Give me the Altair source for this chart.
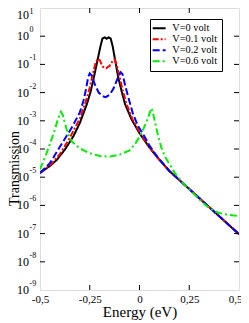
import altair as alt
import pandas as pd

SERIF = "Liberation Serif"

series_names = ["V=0 volt", "V=0.1 volt", "V=0.2 volt", "V=0.6 volt"]
series_colors = ["#000000", "#ff0000", "#0000ff", "#00ee00"]
series_dashes = [[1, 0], [6, 2, 2, 2], [7, 3], [7, 3, 2, 3]]

# V = 0 volt (log10 of transmission)
E_v0 = [-0.50, -0.45, -0.416, -0.375, -0.333, -0.30, -0.265, -0.245, -0.232, -0.22,
        -0.207, -0.195, -0.186, -0.175, -0.165, -0.155, -0.145, -0.135, -0.125, -0.107,
        -0.09, -0.073, -0.04, 0.00, 0.05, 0.09, 0.15, 0.20, 0.25, 0.30, 0.35, 0.40, 0.45, 0.50]
logT_v0 = [-4.85, -4.60, -4.39, -4.02, -3.56, -3.08, -2.42, -1.95, -1.55, -1.15,
           -0.72, -0.32, -0.08, -0.04, -0.09, -0.04, -0.08, -0.35, -0.75, -1.45,
           -1.95, -2.40, -2.95, -3.44, -3.95, -4.30, -4.78, -5.10, -5.42, -5.74, -6.06, -6.38, -6.70, -7.02]

# V = 0.1 volt
E_v1 = [-0.50, -0.45, -0.40, -0.35, -0.30, -0.27, -0.25, -0.235, -0.222, -0.21,
        -0.20, -0.185, -0.168, -0.15, -0.135, -0.125, -0.115, -0.10, -0.085, -0.065,
        -0.035, 0.00, 0.05, 0.09, 0.15, 0.20, 0.25, 0.30, 0.35, 0.40, 0.45, 0.50]
logT_v1 = [-4.85, -4.58, -4.18, -3.60, -2.92, -2.32, -1.82, -1.35, -0.98, -0.80,
           -0.85, -1.08, -1.14, -1.05, -0.88, -0.82, -1.00, -1.45, -1.90, -2.40,
           -2.95, -3.40, -3.93, -4.30, -4.78, -5.10, -5.42, -5.74, -6.06, -6.38, -6.70, -7.02]

# V = 0.2 volt
E_v2 = [-0.50, -0.45, -0.40, -0.35, -0.333, -0.30, -0.282, -0.268, -0.258, -0.25,
        -0.24, -0.225, -0.205, -0.185, -0.17, -0.15, -0.13, -0.11, -0.095, -0.085,
        -0.072, -0.055, -0.035, -0.01, 0.03, 0.05, 0.09, 0.15, 0.20, 0.25, 0.30, 0.35,
        0.40, 0.45, 0.50]
logT_v2 = [-4.85, -4.50, -3.92, -3.35, -3.15, -2.70, -2.30, -1.85, -1.45, -1.32,
           -1.40, -1.70, -2.00, -2.13, -2.16, -2.08, -1.85, -1.50, -1.28, -1.35,
           -1.75, -2.20, -2.70, -3.15, -3.62, -3.88, -4.28, -4.78, -5.10, -5.42, -5.74, -6.06,
           -6.38, -6.70, -7.02]

# V = 0.6 volt
E_v6 = [-0.50, -0.475, -0.45, -0.425, -0.408, -0.395, -0.385, -0.375, -0.36, -0.34,
        -0.30, -0.25, -0.20, -0.15, -0.10, -0.05, -0.02, 0.00, 0.02, 0.04,
        0.055, 0.062, 0.075, 0.094, 0.11, 0.128, 0.178, 0.22, 0.287, 0.33, 0.37, 0.40,
        0.45, 0.50]
logT_v6 = [-4.72, -4.30, -3.82, -3.30, -2.90, -2.68, -2.80, -3.08, -3.45, -3.74,
           -3.98, -4.15, -4.25, -4.27, -4.20, -4.05, -3.80, -3.56, -3.28, -2.95,
           -2.65, -2.55, -2.95, -3.56, -3.95, -4.27, -4.86, -5.22, -5.69, -5.98, -6.18, -6.27,
           -6.34, -6.38]

x_ticks = [-0.5, -0.25, 0, 0.25, 0.5]
x_inner_ticks = [-0.25, 0, 0.25]
y_exps = [1, 0, -1, -2, -3, -4, -5, -6, -7, -8, -9]
y_inner_exps = [0, -1, -2, -3, -4, -5, -6, -7, -8]

frames = []
for name, E, L in [(series_names[0], E_v0, logT_v0), (series_names[1], E_v1, logT_v1),
                   (series_names[2], E_v2, logT_v2), (series_names[3], E_v6, logT_v6)]:
    frames.append(pd.DataFrame({"E": E, "logT": L, "series": name}))
df = pd.concat(frames, ignore_index=True)

W, H = 199, 282
xscale = alt.Scale(domain=[-0.5, 0.5], nice=False)
yscale = alt.Scale(type="log", domain=[1e-9, 10], nice=False)

x_axis = alt.Axis(values=x_ticks, labelExpr="replace(toString(datum.value), '.', ',')",
                  ticks=False, domain=False, grid=False, labelFlush=False,
                  labelOffset=alt.condition("datum.value >= 0.5", alt.value(-4), alt.value(0)),
                  labelFont=SERIF, labelFontSize=11, labelColor="black",
                  labelPadding=3, title="Energy (eV)", titleFont=SERIF,
                  titleFontSize=15, titleFontWeight="normal", titleColor="black",
                  titlePadding=0)
y_axis = alt.Axis(labels=False, ticks=False, domain=False, grid=False,
                  title="Transmission", titleFont=SERIF, titleFontSize=14,
                  titleFontWeight="normal", titleColor="black",
                  titleX=-21.5, titleY=160, titleAngle=270,
                  titleAlign="center", titleBaseline="alphabetic")

leg = alt.Legend(title=None, orient="none", legendX=110, legendY=11,
                 labelFont=SERIF, labelFontSize=10.3, labelColor="black",
                 symbolType="M-1.85,0H1.85", symbolSize=49, symbolStrokeWidth=2,
                 strokeColor="black", fillColor="white", padding=4,
                 rowPadding=-1.3, labelOffset=8, cornerRadius=0)

X = alt.X("E:Q", scale=xscale, axis=x_axis, title="Energy (eV)")
Y = alt.Y("T:Q", scale=yscale, axis=y_axis, title="Transmission")

lines = alt.Chart(df).mark_line(strokeWidth=2, clip=True).encode(
    x=X, y=Y,
    color=alt.Color("series:N", scale=alt.Scale(domain=series_names, range=series_colors), legend=leg),
    strokeDash=alt.StrokeDash("series:N", scale=alt.Scale(domain=series_names, range=series_dashes), legend=leg),
).transform_calculate(T="pow(10, datum.logT)")

ydf = pd.DataFrame({"e": y_exps})
ylab = alt.Chart(ydf).transform_calculate(T="pow(10, datum.e)", s="toString(datum.e)")

ten_main = ylab.transform_filter("datum.e < 1").mark_text(
    align="left", baseline="middle", font=SERIF, fontSize=12, color="black").encode(
    x=alt.value(-23), y=Y, text=alt.value("10"))
exp_main = ylab.transform_filter("datum.e < 1").mark_text(
    align="left", baseline="middle", font=SERIF, fontSize=8, color="black", dy=-6).encode(
    x=alt.value(-10.5), y=Y, text="s:N")
ten_top = ylab.transform_filter("datum.e == 1").mark_text(
    align="left", baseline="middle", font=SERIF, fontSize=12, color="black", dy=6.5).encode(
    x=alt.value(-23), y=Y, text=alt.value("10"))
exp_top = ylab.transform_filter("datum.e == 1").mark_text(
    align="left", baseline="middle", font=SERIF, fontSize=8, color="black", dy=3.5).encode(
    x=alt.value(-10.5), y=Y, text="s:N")

xt = pd.DataFrame({"E": x_inner_ticks})
yt = pd.DataFrame({"e": y_inner_exps})
tick_b = alt.Chart(xt).mark_rule(color="black", strokeWidth=1).encode(
    x=X, y=alt.value(H), y2=alt.value(H - 5))
tick_t = alt.Chart(xt).mark_rule(color="black", strokeWidth=1).encode(
    x=X, y=alt.value(0), y2=alt.value(5))
tick_l = alt.Chart(yt).transform_calculate(T="pow(10, datum.e)").mark_rule(color="black", strokeWidth=1).encode(
    y=Y, x=alt.value(0), x2=alt.value(5))
tick_r = alt.Chart(yt).transform_calculate(T="pow(10, datum.e)").mark_rule(color="black", strokeWidth=1).encode(
    y=Y, x=alt.value(W), x2=alt.value(W - 5))

chart = alt.layer(lines, tick_b, tick_t, tick_l, tick_r, ten_main, exp_main, ten_top, exp_top).properties(
    width=W, height=H,
    autosize=alt.AutoSizeParams(type="none"),
    padding={"left": 32, "top": 0, "right": 2, "bottom": 33},
).configure_view(stroke="#222", strokeWidth=1).configure_axis(
    titleFont=SERIF, labelFont=SERIF, titleFontWeight="normal"
).configure(background="white")

chart.save("out.html", embed_options={"renderer": "svg", "actions": False})
